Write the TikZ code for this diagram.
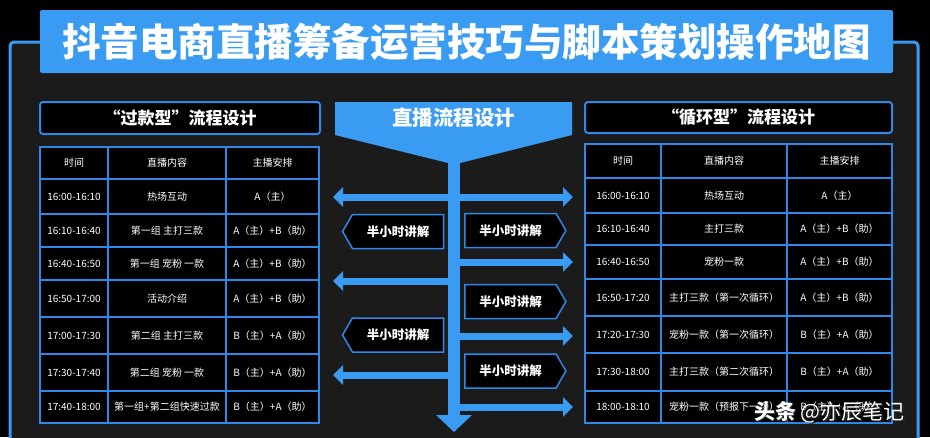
\documentclass[tikz,border=0pt]{standalone}
\usepackage{fontspec}
\setmainfont{Noto Sans CJK SC}
\usetikzlibrary{arrows.meta,shapes.symbols}
\definecolor{mainblue}{HTML}{3A9BF2}
\definecolor{lineblue}{HTML}{2E88E8}
\definecolor{panel}{HTML}{1B1B1B}

\begin{document}
\begin{tikzpicture}[x=1pt, y=-1pt,
    cell/.style={draw=lineblue, line width=1.6pt, fill=black, text=white, inner sep=0pt, outer sep=0pt,
      font=\fontsize{10}{12}\selectfont},
    headbox/.style={draw=lineblue, line width=2pt, rounded corners=3pt, fill=black, text=white, inner sep=0pt,
      font=\bfseries\fontsize{17}{20}\selectfont},
    talk/.style={signal, signal pointer angle=120, draw=lineblue, line width=1.5pt, fill=black, text=white,
      minimum width=101pt, minimum height=34pt, inner sep=0pt, font=\bfseries\fontsize{12.5}{14}\selectfont},
    flow/.style={mainblue, line width=7pt, -{Triangle[width=19pt,length=10pt]}}]

    \fill[black] (0,0) rectangle (930,437);
    \useasboundingbox (0,0) rectangle (930,437);
    \draw[mainblue, line width=3pt, fill=panel, rounded corners=4pt] (10,42) rectangle (918,470);

    \node[fill=mainblue, rounded corners=2pt, minimum width=853pt, minimum height=63pt, inner sep=0pt, text=white,
      font=\bfseries\fontsize{38.5}{40}\selectfont] (title) at (466.5,41.5) {抖音电商直播筹备运营技巧与脚本策划操作地图};

    \node[headbox, minimum width=280pt, minimum height=32pt] (lhead) at (180,118) {“过款型”流程设计};
    \node[headbox, minimum width=307pt, minimum height=31pt] (rhead) at (738.5,117.5) {“循环型”流程设计};

    \foreach \r/\yc/\h/\t/\c/\a in {h/163/32/时间/直播内容/主播安排,
        1/196.5/35/16:00-16:10/热场互动/A（主）,
        2/230.5/33/16:10-16:40/第一组 主打三款/A（主）+B（助）,
        3/263.5/33/16:40-16:50/第一组 宠粉 一款/A（主）+B（助）,
        4/298.5/37/16:50-17:00/活动介绍/A（主）+B（助）,
        5/335.5/37/17:00-17:30/第二组 主打三款/B（主）+A（助）,
        6/372.5/37/17:30-17:40/第二组 宠粉 一款/B（主）+A（助）,
        7/407/32/17:40-18:00/第一组+第二组快速过款/B（主）+A（助）} {
      \node[cell, minimum width=68pt, minimum height=\h pt] (l\r-1) at (74,\yc) {\t};
      \node[cell, minimum width=118pt, minimum height=\h pt] (l\r-2) at (167,\yc) {\c};
      \node[cell, minimum width=93pt, minimum height=\h pt] (l\r-3) at (272.5,\yc) {\a};
    }

    \foreach \r/\yc/\h/\t/\c/\a in {h/161/34/时间/直播内容/主播安排,
        1/195.5/35/16:00-16:10/热场互动/A（主）,
        2/229/32/16:10-16:40/主打三款/A（主）+B（助）,
        3/262/34/16:40-16:50/宠粉一款/A（主）+B（助）,
        4/297.5/37/16:50-17:20/主打三款（第一次循环）/A（主）+B（助）,
        5/334.5/37/17:20-17:30/宠粉一款（第一次循环）/B（主）+A（助）,
        6/372/38/17:30-18:00/主打三款（第二次循环）/B（主）+A（助）,
        7/407/32/18:00-18:10/宠粉一款（预报下一场）/B（主）+A（助）} {
      \node[cell, minimum width=76pt, minimum height=\h pt] (r\r-1) at (623,\yc) {\t};
      \node[cell, minimum width=126pt, minimum height=\h pt] (r\r-2) at (724,\yc) {\c};
      \node[cell, minimum width=105pt, minimum height=\h pt] (r\r-3) at (839.5,\yc) {\a};
    }

    \fill[mainblue] (335,102) -- (572,102) -- (572,135) -- (460,163) -- (448,163) -- (335,135) -- cycle;
    \node[text=white, font=\bfseries\fontsize{20.5}{22}\selectfont] (flowtitle) at (453.5,118) {直播流程设计};

    \node[talk, signal to=west] (talkl1) at (398,231.5) {半小时讲解};
    \node[talk, signal to=east] (talkr1) at (510.5,230.5) {半小时讲解};
    \node[talk, signal to=east] (talkr2) at (510.5,301.5) {半小时讲解};
    \node[talk, signal to=west] (talkl2) at (398,335) {半小时讲解};
    \node[talk, signal to=east] (talkr3) at (510.5,371) {半小时讲解};

    \coordinate (stemtop) at (454,158);
    \coordinate (stemend) at (454,432);
    \coordinate (l1) at (333,197);
    \coordinate (r1) at (573,197);
    \coordinate (r2) at (573,262);
    \coordinate (l2) at (333,281);
    \coordinate (r3) at (573,336);
    \coordinate (l3) at (333,375);
    \coordinate (r4) at (573,407);

    \draw[mainblue, line width=12pt, -{Triangle[width=35pt,length=17pt]}] (stemtop) -- (stemend);
    \draw[flow, {Triangle[width=19pt,length=10pt]}-{Triangle[width=19pt,length=10pt]}] (l1) -- (r1);
    \draw[flow] (r2 -| stemtop) -- (r2);
    \draw[flow] (l2 -| stemtop) -- (l2);
    \draw[flow] (r3 -| stemtop) -- (r3);
    \draw[flow] (l3 -| stemtop) -- (l3);
    \draw[flow] (r4 -| stemtop) -- (r4);

    \node[text=black!85, font=\fontsize{21}{24}\selectfont] (wmshadow) at (831,413.5) {\textbf{头条} @亦辰笔记};
    \node[text=white, font=\fontsize{21}{24}\selectfont] (wm) at (829.5,412) {\textbf{头条} @亦辰笔记};

  \end{tikzpicture}
\end{document}
